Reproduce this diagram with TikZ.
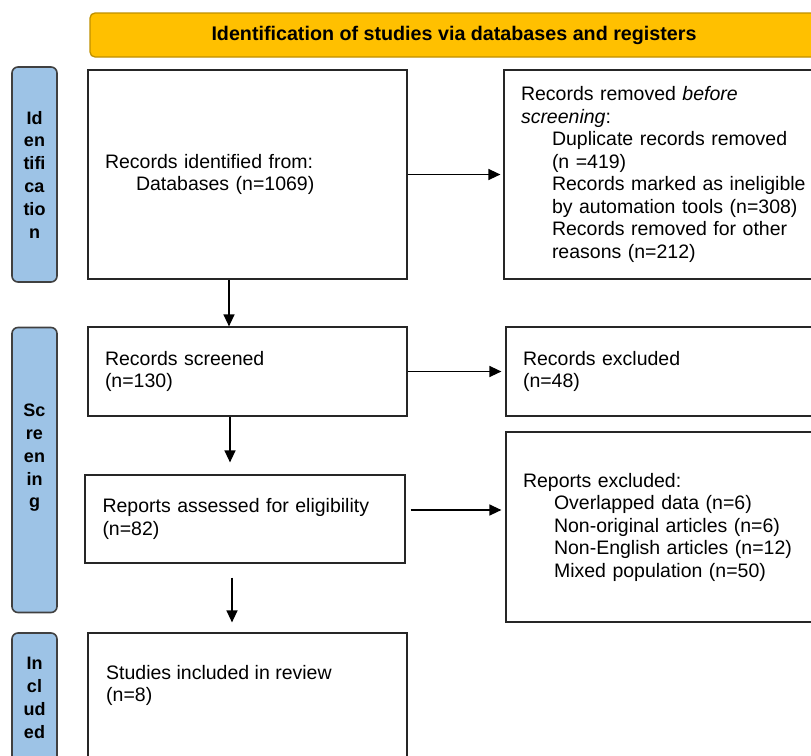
\documentclass[tikz,border=0pt]{standalone}
\usepackage{fontspec}
\setmainfont{Liberation Sans}
\usetikzlibrary{positioning}
\usetikzlibrary{arrows.meta}
\definecolor{hdrfill}{HTML}{FFC000}
\definecolor{hdrline}{HTML}{BF9000}
\definecolor{stagefill}{HTML}{9DC3E6}
\definecolor{stageline}{HTML}{404040}
\tikzstyle{header}=[rectangle, rounded corners=5pt, line width=1.3pt,
  draw=hdrline, fill=hdrfill, minimum width=728pt, minimum height=44pt,
  inner sep=0pt, font=\bfseries\fontsize{19.7}{22}\selectfont]
\tikzstyle{stage}=[rectangle, rounded corners=6pt, line width=1.6pt,
  draw=stageline, fill=stagefill, minimum width=45pt, inner sep=0pt]
\tikzstyle{stagetext}=[align=center, inner sep=0pt,
  font=\bfseries\fontsize{18}{22.8}\selectfont]
\tikzstyle{record}=[rectangle, line width=1.2pt, draw=black!85,
  inner xsep=17pt, inner ysep=0pt, align=left, text width=285pt,
  minimum width=319pt, font=\fontsize{19.5}{22.5}\selectfont]
\tikzstyle{arrflow}=[->, >={Triangle[length=12pt, width=11pt]}, line width=1.3pt]
\newcommand{\ind}{\hspace*{31pt}}

\begin{document}
\begin{tikzpicture}[x=1pt, y=-1pt]
\useasboundingbox (0,0) rectangle (811,755);

\node[header] (hdr) at (454,35) {Identification of studies via databases and registers};

% stages on the left
\node[stage, minimum height=215pt] (sideid) at (34.5,174.5) {};
\node[stage, minimum height=285pt] (sidescr) at (34.5,470) {};
\node[stage, minimum height=130pt] (sideinc) at (34.5,698) {};
\node[stagetext] (sideidtxt) at (sideid) {Id\\en\\tifi\\ca\\tio\\n};
\node[stagetext] (sidescrtxt) at (34.5,458) {Sc\\re\\en\\in\\g};
\node[stagetext] (sideinctxt) at (sideinc) {In\\cl\\ud\\ed};

% main column
\node[record, minimum height=209pt] (ident) at (247.5,174.5)
  {Records identified from:\\\ind Databases (n=1069)};
\node[record, minimum height=89pt] (screened) at (247.5,371.5)
  {Records screened\\(n=130)};
\node[record, minimum width=320pt, minimum height=88pt] (assessed) at (245,519)
  {Reports assessed for eligibility\\(n=82)};
\node[record, minimum height=157pt] (included) at (247.5,711.5) {};
\node[anchor=north west, align=left, inner sep=0pt,
  font=\fontsize{19.5}{22.5}\selectfont] (includedtxt) at (106,665)
  {Studies included in review\\(n=8)};

% right column
\node[record, minimum width=321pt, text width=287pt, minimum height=209pt] (removed) at (664.5,174.5)
  {Records removed \textit{before}\\\textit{screening}:\\
   \ind Duplicate records removed\\\ind (n =419)\\
   \ind Records marked as ineligible\\\ind by automation tools (n=308)\\
   \ind Records removed for other\\\ind reasons (n=212)};
\node[record, minimum height=89pt] (excluded) at (665.5,371.5)
  {Records excluded\\(n=48)};
\node[record, minimum height=190pt] (repexcl) at (665.5,527)
  {Reports excluded:\\\ind Overlapped data (n=6)\\\ind Non-original articles (n=6)\\
   \ind Non-English articles (n=12)\\\ind Mixed population (n=50)};

% flow
\draw[arrflow, shorten >=3pt] (ident) -- (removed);
\draw[arrflow, shorten >=4pt] (screened) -- (excluded);
\draw[arrflow, shorten <=5pt, shorten >=4pt] ([yshift=9pt]assessed.east) -- ([yshift=9pt]assessed.east -| repexcl.west);
\draw[arrflow] ([xshift=-18.5pt]ident.south) -- ([xshift=-18.5pt]ident.south |- screened.north);
\draw[arrflow, shorten >=12pt] ([xshift=-17.5pt]screened.south) -- ([xshift=-17.5pt]screened.south |- assessed.north);
\draw[arrflow, shorten <=14pt, shorten >=10pt] ([xshift=-13pt]assessed.south) -- ([xshift=-13pt]assessed.south |- included.north);

\end{tikzpicture}
\end{document}
